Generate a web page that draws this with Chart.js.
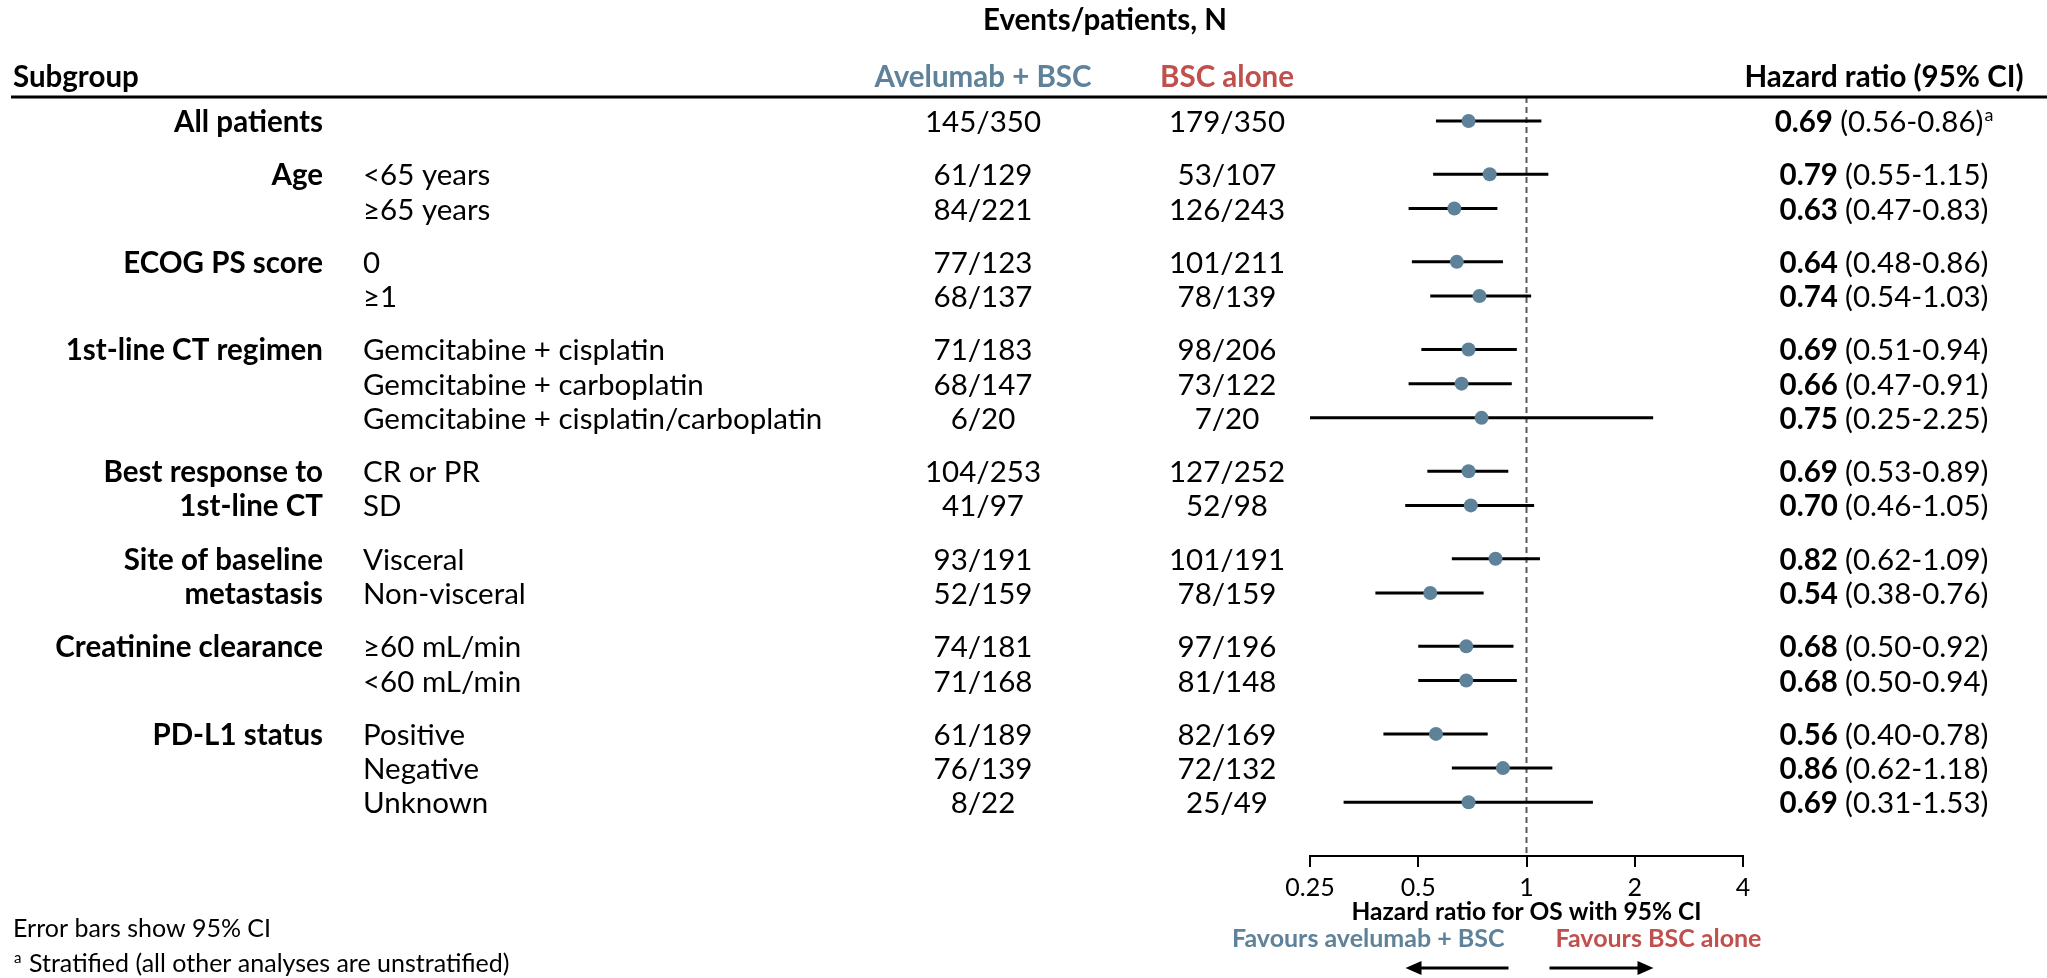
<!DOCTYPE html>
<html>
<head>
<meta charset="utf-8">
<script src="https://cdn.jsdelivr.net/npm/chart.js@4.4.0/dist/chart.umd.min.js"></script>
<style>
  html, body { margin: 0; padding: 0; background: #fff; }
  canvas { display: block; }
</style>
</head>
<body>
<canvas id="forest" width="2047" height="978"></canvas>
<script>
// groups and rows
const groupNames = [['All patients'], ['Age'], ['ECOG PS score'], ['1st-line CT regimen'],
  ['Best response to', '1st-line CT'], ['Site of baseline', 'metastasis'],
  ['Creatinine clearance'], ['PD-L1 status']];
const rowGroup = [0, 1, 1, 2, 2, 3, 3, 3, 4, 4, 5, 5, 6, 6, 7, 7, 7];
const subgroups = ['', '<65 years', '≥65 years', '0', '≥1', 'Gemcitabine + cisplatin',
  'Gemcitabine + carboplatin', 'Gemcitabine + cisplatin/carboplatin', 'CR or PR', 'SD',
  'Visceral', 'Non-visceral', '≥60 mL/min', '<60 mL/min', 'Positive', 'Negative', 'Unknown'];

// events/patients
const avelumabEvents = ['145/350', '61/129', '84/221', '77/123', '68/137', '71/183', '68/147', '6/20',
  '104/253', '41/97', '93/191', '52/159', '74/181', '71/168', '61/189', '76/139', '8/22'];
const bscEvents = ['179/350', '53/107', '126/243', '101/211', '78/139', '98/206', '73/122', '7/20',
  '127/252', '52/98', '101/191', '78/159', '97/196', '81/148', '82/169', '72/132', '25/49'];

// hazard ratios
const hazardRatio = [0.69, 0.79, 0.63, 0.64, 0.74, 0.69, 0.66, 0.75, 0.69, 0.70, 0.82, 0.54, 0.68, 0.68, 0.56, 0.86, 0.69];
const ciText = ['(0.56-0.86)', '(0.55-1.15)', '(0.47-0.83)', '(0.48-0.86)', '(0.54-1.03)', '(0.51-0.94)',
  '(0.47-0.91)', '(0.25-2.25)', '(0.53-0.89)', '(0.46-1.05)', '(0.62-1.09)', '(0.38-0.76)',
  '(0.50-0.92)', '(0.50-0.94)', '(0.40-0.78)', '(0.62-1.18)', '(0.31-1.53)'];
const footMark = ['a', '', '', '', '', '', '', '', '', '', '', '', '', '', '', '', ''];
// whiskers as drawn (first row's upper whisker reaches ~1.10 in the figure)
const ciLower = [0.56, 0.55, 0.47, 0.48, 0.54, 0.51, 0.47, 0.25, 0.53, 0.46, 0.62, 0.38, 0.50, 0.50, 0.40, 0.62, 0.31];
const ciUpper = [1.10, 1.15, 0.83, 0.86, 1.03, 0.94, 0.91, 2.25, 0.89, 1.05, 1.09, 0.76, 0.92, 0.94, 0.78, 1.18, 1.53];

const xTicks = [0.25, 0.5, 1, 2, 4];

const BLUE = '#5e8299';
const RED = '#c0504d';
const FONT = 'Lato, "Open Sans", sans-serif';
const TXT = 29.5;
const GROUP_GAP = 0.56;

const rowPos = rowGroup.map((g, i) => i + GROUP_GAP * g);

const ciSegments = [];
rowPos.forEach((y, i) => {
  ciSegments.push({x: ciLower[i], y: y}, {x: ciUpper[i], y: y}, {x: null, y: null});
});
const markers = rowPos.map((y, i) => ({x: hazardRatio[i], y: y}));

function font(size, bold) {
  return (bold ? 'bold ' : '') + size + 'px ' + FONT;
}

const tablePlugin = {
  id: 'table',
  beforeDatasetsDraw(chart) {
    const {ctx, chartArea, scales} = chart;
    const x1 = scales.x.getPixelForValue(1);
    ctx.save();
    ctx.strokeStyle = '#5a5a5a';
    ctx.lineWidth = 2;
    ctx.setLineDash([6, 4]);
    ctx.beginPath();
    ctx.moveTo(x1, chartArea.top);
    ctx.lineTo(x1, chartArea.bottom);
    ctx.stroke();
    ctx.restore();
  },
  afterDraw(chart) {
    const {ctx, chartArea, scales} = chart;
    const ys = scales.y;
    ctx.save();
    ctx.fillStyle = '#000';
    ctx.textBaseline = 'alphabetic';

    // header
    ctx.font = font(TXT, true);
    ctx.textAlign = 'center';
    ctx.fillText('Events/patients, N', 1105, 30);
    ctx.textAlign = 'left';
    ctx.fillText('Subgroup', 13, 87);
    ctx.textAlign = 'center';
    ctx.fillStyle = BLUE;
    ctx.fillText('Avelumab + BSC', 983, 87);
    ctx.fillStyle = RED;
    ctx.fillText('BSC alone', 1227, 87);
    ctx.fillStyle = '#000';
    ctx.fillText('Hazard ratio (95% CI)', 1884, 87);

    ctx.strokeStyle = '#000';
    ctx.lineWidth = 3;
    ctx.beginPath();
    ctx.moveTo(11, chartArea.top);
    ctx.lineTo(2047, chartArea.top);
    ctx.stroke();

    // rows
    rowPos.forEach((p, i) => {
      const base = ys.getPixelForValue(p) + 11;
      const g = rowGroup[i];
      const k = i - rowGroup.indexOf(g);
      if (k < groupNames[g].length) {
        ctx.font = font(TXT, true);
        ctx.textAlign = 'right';
        ctx.fillText(groupNames[g][k], 323, base);
      }
      ctx.font = font(TXT, false);
      ctx.textAlign = 'left';
      ctx.fillText(subgroups[i], 363, base);
      ctx.textAlign = 'center';
      ctx.fillText(avelumabEvents[i], 983, base);
      ctx.fillText(bscEvents[i], 1227, base);

      const hrStr = hazardRatio[i].toFixed(2) + ' ';
      ctx.font = font(TXT, true);
      const w1 = ctx.measureText(hrStr).width;
      ctx.font = font(TXT, false);
      const w2 = ctx.measureText(ciText[i]).width;
      ctx.font = font(18, false);
      const w3 = footMark[i] ? ctx.measureText(footMark[i]).width + 1 : 0;
      let x = 1884 - (w1 + w2 + w3) / 2;
      ctx.textAlign = 'left';
      ctx.font = font(TXT, true);
      ctx.fillText(hrStr, x, base);
      x += w1;
      ctx.font = font(TXT, false);
      ctx.fillText(ciText[i], x, base);
      x += w2;
      if (footMark[i]) {
        ctx.font = font(18, false);
        ctx.fillText(footMark[i], x + 1, base - 11);
      }
    });

    // favours labels and arrows
    const xs = scales.x;
    const x1 = xs.getPixelForValue(1);
    ctx.font = font(25, true);
    ctx.textAlign = 'right';
    ctx.fillStyle = BLUE;
    ctx.fillText('Favours avelumab + BSC', x1 - 22, 947);
    ctx.textAlign = 'left';
    ctx.fillStyle = RED;
    ctx.fillText('Favours BSC alone', x1 + 29, 947);

    ctx.fillStyle = '#000';
    ctx.strokeStyle = '#000';
    ctx.lineWidth = 3;
    const ay = 968;
    const arrow = (from, to) => {
      const dir = Math.sign(to - from);
      ctx.beginPath();
      ctx.moveTo(from, ay);
      ctx.lineTo(to - dir * 12, ay);
      ctx.stroke();
      ctx.beginPath();
      ctx.moveTo(to, ay);
      ctx.lineTo(to - dir * 16, ay - 7);
      ctx.lineTo(to - dir * 16, ay + 7);
      ctx.closePath();
      ctx.fill();
    };
    arrow(x1 - 18, x1 - 121);
    arrow(x1 + 23, x1 + 127);

    // footnotes
    ctx.textAlign = 'left';
    ctx.font = font(25, false);
    ctx.fillText('Error bars show 95% CI', 13, 937);
    ctx.font = font(15, false);
    ctx.fillText('a', 14, 963);
    ctx.font = font(25, false);
    ctx.fillText('Stratified (all other analyses are unstratified)', 29, 972);
    ctx.restore();
  }
};

new Chart(document.getElementById('forest'), {
  type: 'scatter',
  data: {
    datasets: [
      {
        type: 'line',
        data: ciSegments,
        borderColor: '#000',
        borderWidth: 3,
        pointRadius: 0,
        spanGaps: false,
        order: 2
      },
      {
        type: 'scatter',
        data: markers,
        backgroundColor: BLUE,
        borderWidth: 0,
        pointRadius: 7,
        order: 1
      }
    ]
  },
  options: {
    responsive: false,
    animation: false,
    layout: {padding: {left: 1310, right: 304, top: 97, bottom: 0}},
    plugins: {legend: {display: false}, tooltip: {enabled: false}},
    scales: {
      x: {
        type: 'logarithmic',
        min: 0.25,
        max: 4,
        afterBuildTicks: (s) => { s.ticks = xTicks.map(v => ({value: v})); },
        afterFit: (s) => { s.height = 122; },
        ticks: {
          callback: (v) => String(v),
          font: {family: FONT, size: 25},
          color: '#000',
          padding: 6,
          maxRotation: 0,
          autoSkip: false
        },
        grid: {drawOnChartArea: false, drawTicks: true, tickLength: 11, color: '#000', lineWidth: 2},
        border: {display: true, color: '#000', width: 2},
        title: {
          display: true,
          text: 'Hazard ratio for OS with 95% CI',
          font: {family: FONT, size: 24.5, weight: 'bold'},
          color: '#000',
          padding: {top: 0, bottom: 51}
        }
      },
      y: {type: 'linear', display: false, reverse: true, min: -0.70, max: 21.49}
    }
  },
  plugins: [tablePlugin]
});
</script>
</body>
</html>
